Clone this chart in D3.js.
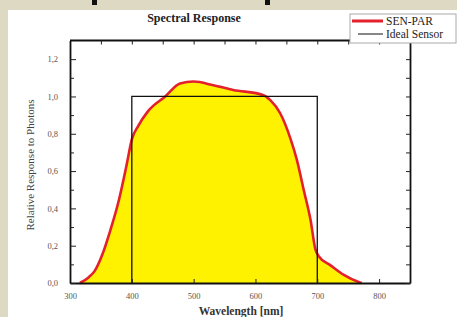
<!DOCTYPE html>
<html>
<head>
<meta charset="utf-8">
<script src="https://cdn.jsdelivr.net/npm/d3@7"></script>
<style>
  body { margin: 0; background: #ddd9c3; }
  svg { display: block; }
  text { font-family: "Liberation Serif", "DejaVu Serif", serif; }
</style>
</head>
<body>
<svg id="chart" width="457" height="317"></svg>
<script>
// SEN-PAR measured response (wavelength nm, relative response)
const senWavelength = [316, 330, 340, 352, 365, 378, 392, 400, 410, 426, 454, 478, 500, 532, 564, 613, 624, 640, 657, 667, 678, 689, 697, 702, 721, 743, 767, 772];
const senResponse = [0, 0.03, 0.065, 0.15, 0.28, 0.43, 0.64, 0.77, 0.84, 0.92, 1.0, 1.07, 1.08, 1.06, 1.035, 1.007, 0.98, 0.91, 0.77, 0.66, 0.5, 0.34, 0.18, 0.145, 0.096, 0.043, 0.005, 0];

// ideal PAR sensor
const idealWavelength = [400, 400, 700, 700];
const idealResponse = [0, 1, 1, 0];

const xTicks = [300, 400, 500, 600, 700, 800];
const xTopTicks = [350, 400, 450, 500, 550, 600, 650, 700, 750, 800];
const yTicks = [0, 0.2, 0.4, 0.6, 0.8, 1.0, 1.2];
const yMinorTicks = [0.1, 0.3, 0.5, 0.7, 0.9, 1.1];

const legendNames = ["SEN-PAR", "Ideal Sensor"];

const svg = d3.select("#chart");

// white panel on beige page
svg.append("rect")
  .attr("x", 8).attr("y", 10)
  .attr("width", 449).attr("height", 307)
  .attr("fill", "#ffffff");

// bits of the cut-off heading above
svg.append("rect").attr("x", 92).attr("y", 0).attr("width", 5).attr("height", 5).attr("fill", "#111");
svg.append("rect").attr("x", 265).attr("y", 0).attr("width", 5).attr("height", 5).attr("fill", "#111");

const margin = { left: 70, right: 47, top: 40.5, bottom: 34 };
const width = 457 - margin.left - margin.right;
const height = 317 - margin.top - margin.bottom;

const g = svg.append("g").attr("transform", `translate(${margin.left},${margin.top})`);

const x = d3.scaleLinear().domain([300, 850]).range([0, width]);
const y = d3.scaleLinear().domain([0, 1.3]).range([height, 0]);

const sen = senWavelength.map((w, i) => ({ w, v: senResponse[i] }));
const ideal = idealWavelength.map((w, i) => ({ w, v: idealResponse[i] }));

// yellow area under sensor curve
g.append("path")
  .datum(sen)
  .attr("fill", "#fff200")
  .attr("d", d3.area().x((d) => x(d.w)).y0(height).y1((d) => y(d.v)).curve(d3.curveMonotoneX));

// red sensor curve
g.append("path")
  .datum(sen)
  .attr("fill", "none")
  .attr("stroke", "#e3202b")
  .attr("stroke-width", 2.6)
  .attr("stroke-linejoin", "round")
  .attr("d", d3.line().x((d) => x(d.w)).y((d) => y(d.v)).curve(d3.curveMonotoneX));

// ideal sensor box
g.append("path")
  .datum(ideal)
  .attr("fill", "none")
  .attr("stroke", "#111")
  .attr("stroke-width", 1.3)
  .attr("d", d3.line().x((d) => x(d.w)).y((d) => y(d.v)));

const fmt = (d) => d3.format(".1f")(d).replace(".", ",");

// bottom axis, ticks inward
const xAxis = g.append("g")
  .attr("transform", `translate(0,${height})`)
  .call(d3.axisBottom(x).tickValues(xTicks).tickSizeInner(-4).tickSizeOuter(0).tickPadding(10));
// top axis
const xTop = g.append("g")
  .call(d3.axisTop(x).tickValues(xTopTicks).tickSizeInner(-4).tickSizeOuter(0).tickFormat(""));
// left axis
const yAxis = g.append("g")
  .call(d3.axisLeft(y).tickValues(yTicks).tickFormat(fmt).tickSizeInner(-6).tickSizeOuter(0).tickPadding(12));
const yMinor = g.append("g")
  .call(d3.axisLeft(y).tickValues(yMinorTicks).tickSizeInner(-4).tickSizeOuter(0).tickFormat(""));
// right axis
const yRight = g.append("g")
  .attr("transform", `translate(${width},0)`)
  .call(d3.axisRight(y).tickValues(yTicks.concat(yMinorTicks)).tickSizeInner(-4).tickSizeOuter(0).tickFormat(""));

[xAxis, xTop, yAxis, yMinor, yRight].forEach((a) => {
  a.select(".domain").attr("stroke", "#111").attr("stroke-width", 1.8);
  a.selectAll(".tick line").attr("stroke", "#222").attr("stroke-width", 1);
  a.selectAll(".tick text")
    .attr("fill", "#555")
    .style("font-size", "8.5px")
    .style("font-family", '"Liberation Serif", serif');
});
yMinor.select(".domain").remove();
xTop.select(".domain").attr("d", `M0,0H${width}`);

// axis titles
svg.append("text")
  .attr("text-anchor", "middle")
  .attr("transform", "rotate(-90)")
  .attr("x", -165)
  .attr("y", 34)
  .attr("fill", "#444")
  .style("font-size", "11px")
  .text("Relative Response to Photons");

svg.append("text")
  .attr("text-anchor", "middle")
  .attr("x", 241)
  .attr("y", 315)
  .attr("fill", "#333")
  .style("font-size", "11.5px")
  .style("font-weight", "bold")
  .text("Wavelength [nm]");

svg.append("text")
  .attr("text-anchor", "middle")
  .attr("x", 194)
  .attr("y", 22)
  .attr("fill", "#222")
  .style("font-size", "12px")
  .style("font-weight", "bold")
  .text("Spectral Response");

// legend
const legend = svg.append("g").attr("transform", "translate(350,14)");
legend.append("rect")
  .attr("width", 106).attr("height", 29)
  .attr("fill", "#fff")
  .attr("stroke", "#aaa")
  .attr("stroke-width", 1);
const legendStyles = [
  { color: "#e3202b", w: 3, x1: 2 },
  { color: "#111", w: 1, x1: 8 },
];
legendNames.forEach((name, i) => {
  const yy = 7 + i * 13;
  legend.append("line")
    .attr("x1", legendStyles[i].x1).attr("x2", 33)
    .attr("y1", yy).attr("y2", yy)
    .attr("stroke", legendStyles[i].color)
    .attr("stroke-width", legendStyles[i].w);
  legend.append("text")
    .attr("x", 36).attr("y", yy + 3.5)
    .attr("fill", "#222")
    .style("font-size", "11.5px")
    .text(name);
});
</script>
</body>
</html>
